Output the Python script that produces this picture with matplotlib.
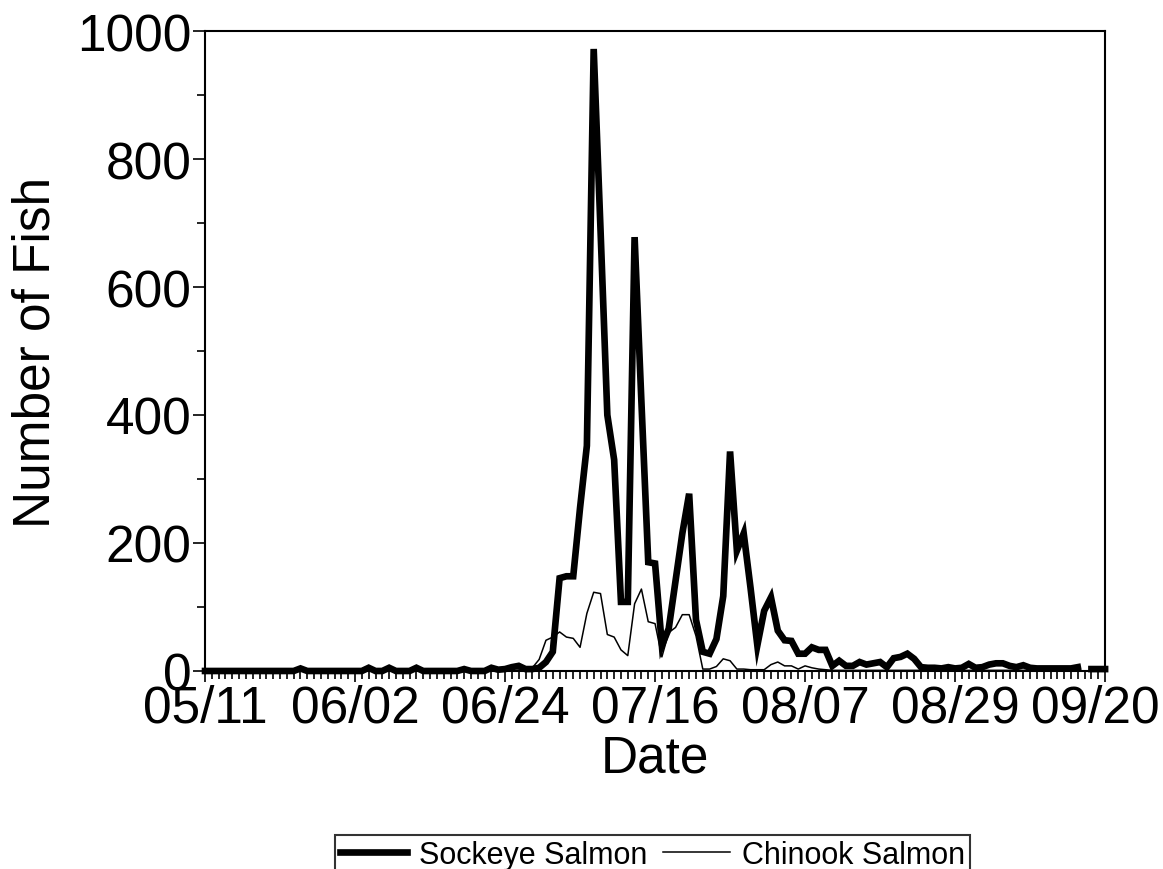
import numpy as np
import pandas as pd
import matplotlib
matplotlib.use("Agg")
import matplotlib.pyplot as plt
import matplotlib.dates as mdates
import matplotlib.transforms as mtransforms

plt.rcParams['font.family'] = ['Liberation Sans', 'DejaVu Sans']

# daily counts, 05/11 .. 09/20
start_date = "2001-05-11"
end_date = "2001-09-20"

sockeye = [
    0, 0, 0, 0, 0, 0, 0, 0, 0, 0,            # 0-9
    0, 0, 0, 0, 4, 0, 0, 0, 0, 0,            # 10-19
    0, 0, 0, 0, 5, 0, 0, 5, 0, 0,            # 20-29
    0, 5, 0, 0, 0, 0, 0, 0, 3, 0,            # 30-39
    0, 0, 5, 2, 3, 6, 8, 3, 3, 5,            # 40-49
    14, 30, 145, 148, 148, 255, 352, 972, 690, 400,   # 50-59
    330, 108, 108, 678, 420, 170, 168, 40, 66, 140,   # 60-69
    215, 277, 80, 30, 27, 50, 117, 343, 188, 215,     # 70-79
    130, 40, 94, 115, 63, 48, 47, 27, 27, 37,         # 80-89
    33, 33, 8, 16, 8, 8, 14, 10, 12, 14,              # 90-99
    6, 20, 22, 27, 19, 6, 5, 5, 4, 6,                 # 100-109
    4, 5, 11, 5, 6, 10, 12, 12, 8, 6,                 # 110-119
    9, 5, 4, 4, 4, 4, 4, 4, 6, np.nan,                # 120-129
    3, 3, 3,                                          # 130-132
]

chinook = [
    0, 0, 0, 0, 0, 0, 0, 0, 0, 0,
    0, 0, 0, 0, 3, 0, 0, 0, 0, 0,
    0, 0, 0, 0, 6, 0, 0, 6, 0, 0,
    0, 5, 0, 0, 0, 0, 0, 0, 3, 0,
    0, 0, 5, 0, 0, 5, 3, 3, 5, 18,
    48, 53, 61, 53, 51, 37, 90, 123, 121, 57,
    53, 33, 24, 105, 128, 77, 74, 22, 60, 68,
    88, 88, 55, 3, 3, 7, 19, 16, 3, 3,
    2, 2, 2, 10, 14, 8, 8, 3, 8, 5,
    3, 2, 1, 1, 1, 1, 1, 1, 1, 1,
    1, 1, 1, 1, 1, 1, 1, 1, 1, 1,
    1, 1, 1, 1, 1, 1, 1, 1, 1, 1,
    1, 1, 1, 1, 1, 1, 1, 1, 1, np.nan,
    1, 1, 1,
]

series_labels = ["Sockeye Salmon", "Chinook Salmon"]
y_ticks = [0, 200, 400, 600, 800, 1000]

dates = pd.date_range(start_date, end_date, freq="D")

fig = plt.figure(figsize=(11.63, 8.70), dpi=100)
ax = fig.add_axes([0.1763, 0.2276, 0.7739, 0.7356])

ax.plot(dates, sockeye, color='black', lw=4.8, label=series_labels[0],
        solid_joinstyle='miter', clip_on=False, zorder=3)
ax.plot(dates, chinook, color='black', lw=1.1, label=series_labels[1],
        clip_on=False, zorder=4)

ax.set_xlim(dates[0], dates[-1])
ax.set_ylim(0, 1000)

# major ticks every 22 days, minor every day
ax.set_xticks(dates[::22])
ax.xaxis.set_major_formatter(mdates.DateFormatter('%m/%d'))
ax.xaxis.set_minor_locator(mdates.DayLocator())
ax.set_yticks(y_ticks)
ax.set_yticks(np.arange(100, 1000, 200), minor=True)

ax.tick_params(axis='both', which='major', labelsize=37, length=9, width=1.2,
               direction='out', pad=1, colors='black')
ax.tick_params(axis='both', which='minor', length=6, width=1.2, direction='out')
ax.tick_params(axis='x', which='major', length=8)

# last date label sits a little left, as in the original
fig.canvas.draw()
last = ax.get_xticklabels()[-1]
last.set_transform(last.get_transform() +
                   mtransforms.ScaledTranslation(-10 / 100, 0, fig.dpi_scale_trans))

for sp in ax.spines.values():
    sp.set_linewidth(1.5)
    sp.set_color('black')

ax.set_xlabel("Date", fontsize=37, labelpad=1)
ax.set_ylabel("Number of Fish", fontsize=37, labelpad=12)

leg = fig.legend(loc='upper center', bbox_to_anchor=(0.561, 0.039), ncol=2,
                 fontsize=22, frameon=True, fancybox=False, edgecolor='black',
                 handlelength=2.2, handletextpad=0.4, columnspacing=0.5,
                 borderpad=0.15, borderaxespad=0)
leg.get_frame().set_linewidth(1.5)

fig.savefig("out.png", dpi=100)
